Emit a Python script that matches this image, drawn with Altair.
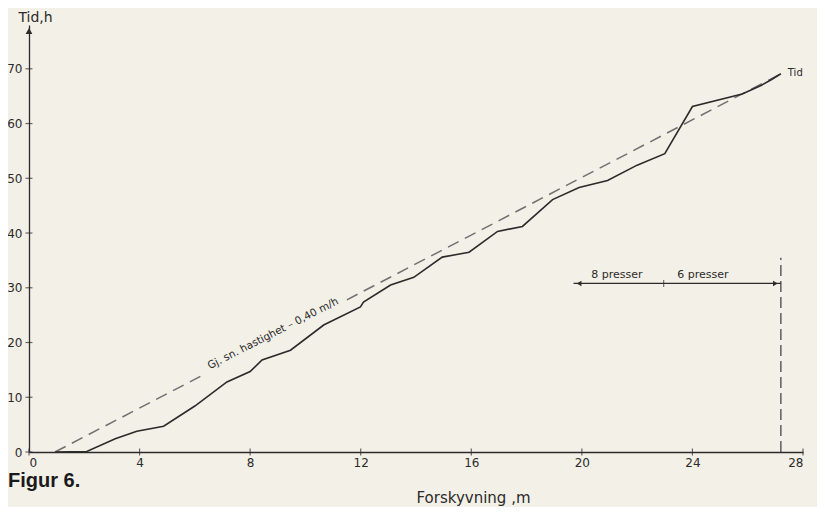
import altair as alt
import pandas as pd

# Measured curve: displacement (m) vs time (h)
disp = [0.94, 2.09, 3.12, 3.9, 4.87, 6.0, 7.16, 8.0, 8.43, 9.46, 10.66, 11.99, 12.1,
        13.08, 13.92, 14.95, 15.92, 16.95, 17.85, 18.94, 19.9, 20.93, 22.0, 23.0,
        24.0, 25.8, 26.5, 26.85, 27.2]
hours = [0, 0.1, 2.4, 3.8, 4.7, 8.4, 12.8, 14.7, 16.8, 18.6, 23.2, 26.5, 27.4,
         30.5, 31.9, 35.6, 36.5, 40.3, 41.2, 46.1, 48.3, 49.6, 52.4, 54.5,
         63.1, 65.4, 67.0, 68.0, 69.1]

# Average-speed dashed line (two pieces, broken by the label)
avg_x = [0.94, 6.2, 11.5, 27.2]
avg_y = [0, 13.8, 27.8, 69.1]
avg_seg = ["a", "a", "b", "b"]

# Press annotation
press_y = 30.8
press_x = [19.7, 27.2]
press_div = 22.96
press_labels = ["8 presser", "6 presser"]
press_label_x = [21.27, 24.38]
vline_x = 27.2
vline_y = [0, 35.5]

x_ticks = [0, 4, 8, 12, 16, 20, 24, 28]
y_ticks = [0, 10, 20, 30, 40, 50, 60, 70]

INK = "#2b2b2b"
BG = "#f3f0e7"
FONT = "DejaVu Sans"

xs = alt.Scale(domain=[0, 28], nice=False, zero=False)
ys = alt.Scale(domain=[0, 78], nice=False, zero=False)

curve_df = pd.DataFrame({"x": disp, "y": hours})
avg_df = pd.DataFrame({"x": avg_x, "y": avg_y, "seg": avg_seg})

base = alt.Chart(curve_df).mark_line(color=INK, strokeWidth=1.6).encode(
    x=alt.X("x:Q", scale=xs,
            axis=alt.Axis(values=x_ticks, ticks=False, grid=False, domainColor=INK,
                          domainWidth=1.3, labelFont=FONT, labelFontSize=12,
                          labelColor=INK, labelPadding=5,
                          title="Forskyvning ,m", titleFont=FONT, titleFontSize=15,
                          titleFontWeight="normal", titleColor=INK,
                          titleX=444, titleY=45, titleBaseline="middle",
                          titleAlign="center")),
    y=alt.Y("y:Q", scale=ys,
            axis=alt.Axis(values=y_ticks, ticks=False, grid=False, domainColor=INK,
                          domainWidth=1.3, labelFont=FONT, labelFontSize=12,
                          labelColor=INK, labelPadding=7,
                          title="Tid,h", titleFont=FONT, titleFontSize=14,
                          titleFontWeight="normal", titleColor=INK, titleAngle=0,
                          titleX=6, titleY=-8, titleAlign="center",
                          titleBaseline="middle")),
)

avg = alt.Chart(avg_df).mark_line(color="#707070", strokeWidth=1.5,
                                  strokeDash=[12, 7]).encode(
    x=alt.X("x:Q", scale=xs), y=alt.Y("y:Q", scale=ys), detail="seg:N")

avg_label = alt.Chart(pd.DataFrame({"x": [8.83], "y": [21.6],
                                    "t": ["Gj. sn. hastighet – 0,40 m/h"]})).mark_text(
    angle=333, fontSize=10.5, font=FONT, color=INK, align="center", baseline="middle"
).encode(x=alt.X("x:Q", scale=xs), y=alt.Y("y:Q", scale=ys), text="t:N")

end_label = alt.Chart(pd.DataFrame({"x": [27.45], "y": [69.2], "t": ["Tid"]})).mark_text(
    fontSize=10, font=FONT, color=INK, align="left", baseline="middle"
).encode(x=alt.X("x:Q", scale=xs), y=alt.Y("y:Q", scale=ys), text="t:N")

# x ticks crossing axis
xt = alt.Chart(pd.DataFrame({"v": x_ticks})).mark_tick(
    orient="vertical", size=7, thickness=1.2, color=INK
).encode(x=alt.X("v:Q", scale=xs), y=alt.datum(0, scale=ys))

yt = alt.Chart(pd.DataFrame({"v": y_ticks})).mark_tick(
    orient="horizontal", size=7, thickness=1.2, color=INK
).encode(y=alt.Y("v:Q", scale=ys), x=alt.datum(0, scale=xs))

y_arrow = alt.Chart(pd.DataFrame({"x": [0], "y": [76.9]})).mark_point(
    shape="triangle-up", filled=True, color=INK, size=45, opacity=1
).encode(x=alt.X("x:Q", scale=xs), y=alt.Y("y:Q", scale=ys))

# press arrow
press_df = pd.DataFrame({"x": [press_x[0]], "x2": [press_x[1]], "y": [press_y]})
press_line = alt.Chart(press_df).mark_rule(color=INK, strokeWidth=1.1).encode(
    x=alt.X("x:Q", scale=xs), x2="x2:Q", y=alt.Y("y:Q", scale=ys))

arrow_df = pd.DataFrame({"x": [press_x[0] + 0.2, press_x[1] - 0.2], "y": [press_y, press_y],
                         "s": ["triangle-left", "triangle-right"]})
press_heads = alt.Chart(arrow_df).mark_point(filled=True, color=INK, size=30, opacity=1).encode(
    x=alt.X("x:Q", scale=xs), y=alt.Y("y:Q", scale=ys),
    shape=alt.Shape("s:N", scale=alt.Scale(domain=["triangle-left", "triangle-right"],
                                           range=["triangle-left", "triangle-right"]),
                    legend=None))

div_tick = alt.Chart(pd.DataFrame({"x": [press_div], "y": [press_y]})).mark_tick(
    orient="vertical", size=7, thickness=1.1, color=INK
).encode(x=alt.X("x:Q", scale=xs), y=alt.Y("y:Q", scale=ys))

press_text = alt.Chart(pd.DataFrame({"x": press_label_x, "y": [32.4, 32.4],
                                     "t": press_labels})).mark_text(
    fontSize=11, font=FONT, color=INK, align="center", baseline="middle"
).encode(x=alt.X("x:Q", scale=xs), y=alt.Y("y:Q", scale=ys), text="t:N")

vline = alt.Chart(pd.DataFrame({"x": [vline_x], "y": [vline_y[0]], "y2": [vline_y[1]]})).mark_rule(
    color=INK, strokeWidth=1.1, strokeDash=[11, 5]
).encode(x=alt.X("x:Q", scale=xs), y=alt.Y("y:Q", scale=ys), y2="y2:Q")

fig_label = alt.Chart(pd.DataFrame({"t": ["Figur 6."]})).mark_text(
    fontSize=20, font="Liberation Sans", fontWeight="bold", color="#1a1a1a",
    align="left", baseline="middle"
).encode(x=alt.value(-21), y=alt.value(456), text="t:N")

chart = alt.layer(
    avg, base, avg_label, end_label, xt, yt, y_arrow, press_line, press_heads,
    div_tick, press_text, vline, fig_label
).properties(
    width=774, height=427,
    padding={"left": 21, "top": 17, "right": 14, "bottom": 55},
    autosize=alt.AutoSizeParams(type="none"),
    background=BG,
).configure_view(stroke=None)

chart.save("out.html", embed_options={"renderer": "svg", "actions": False})
